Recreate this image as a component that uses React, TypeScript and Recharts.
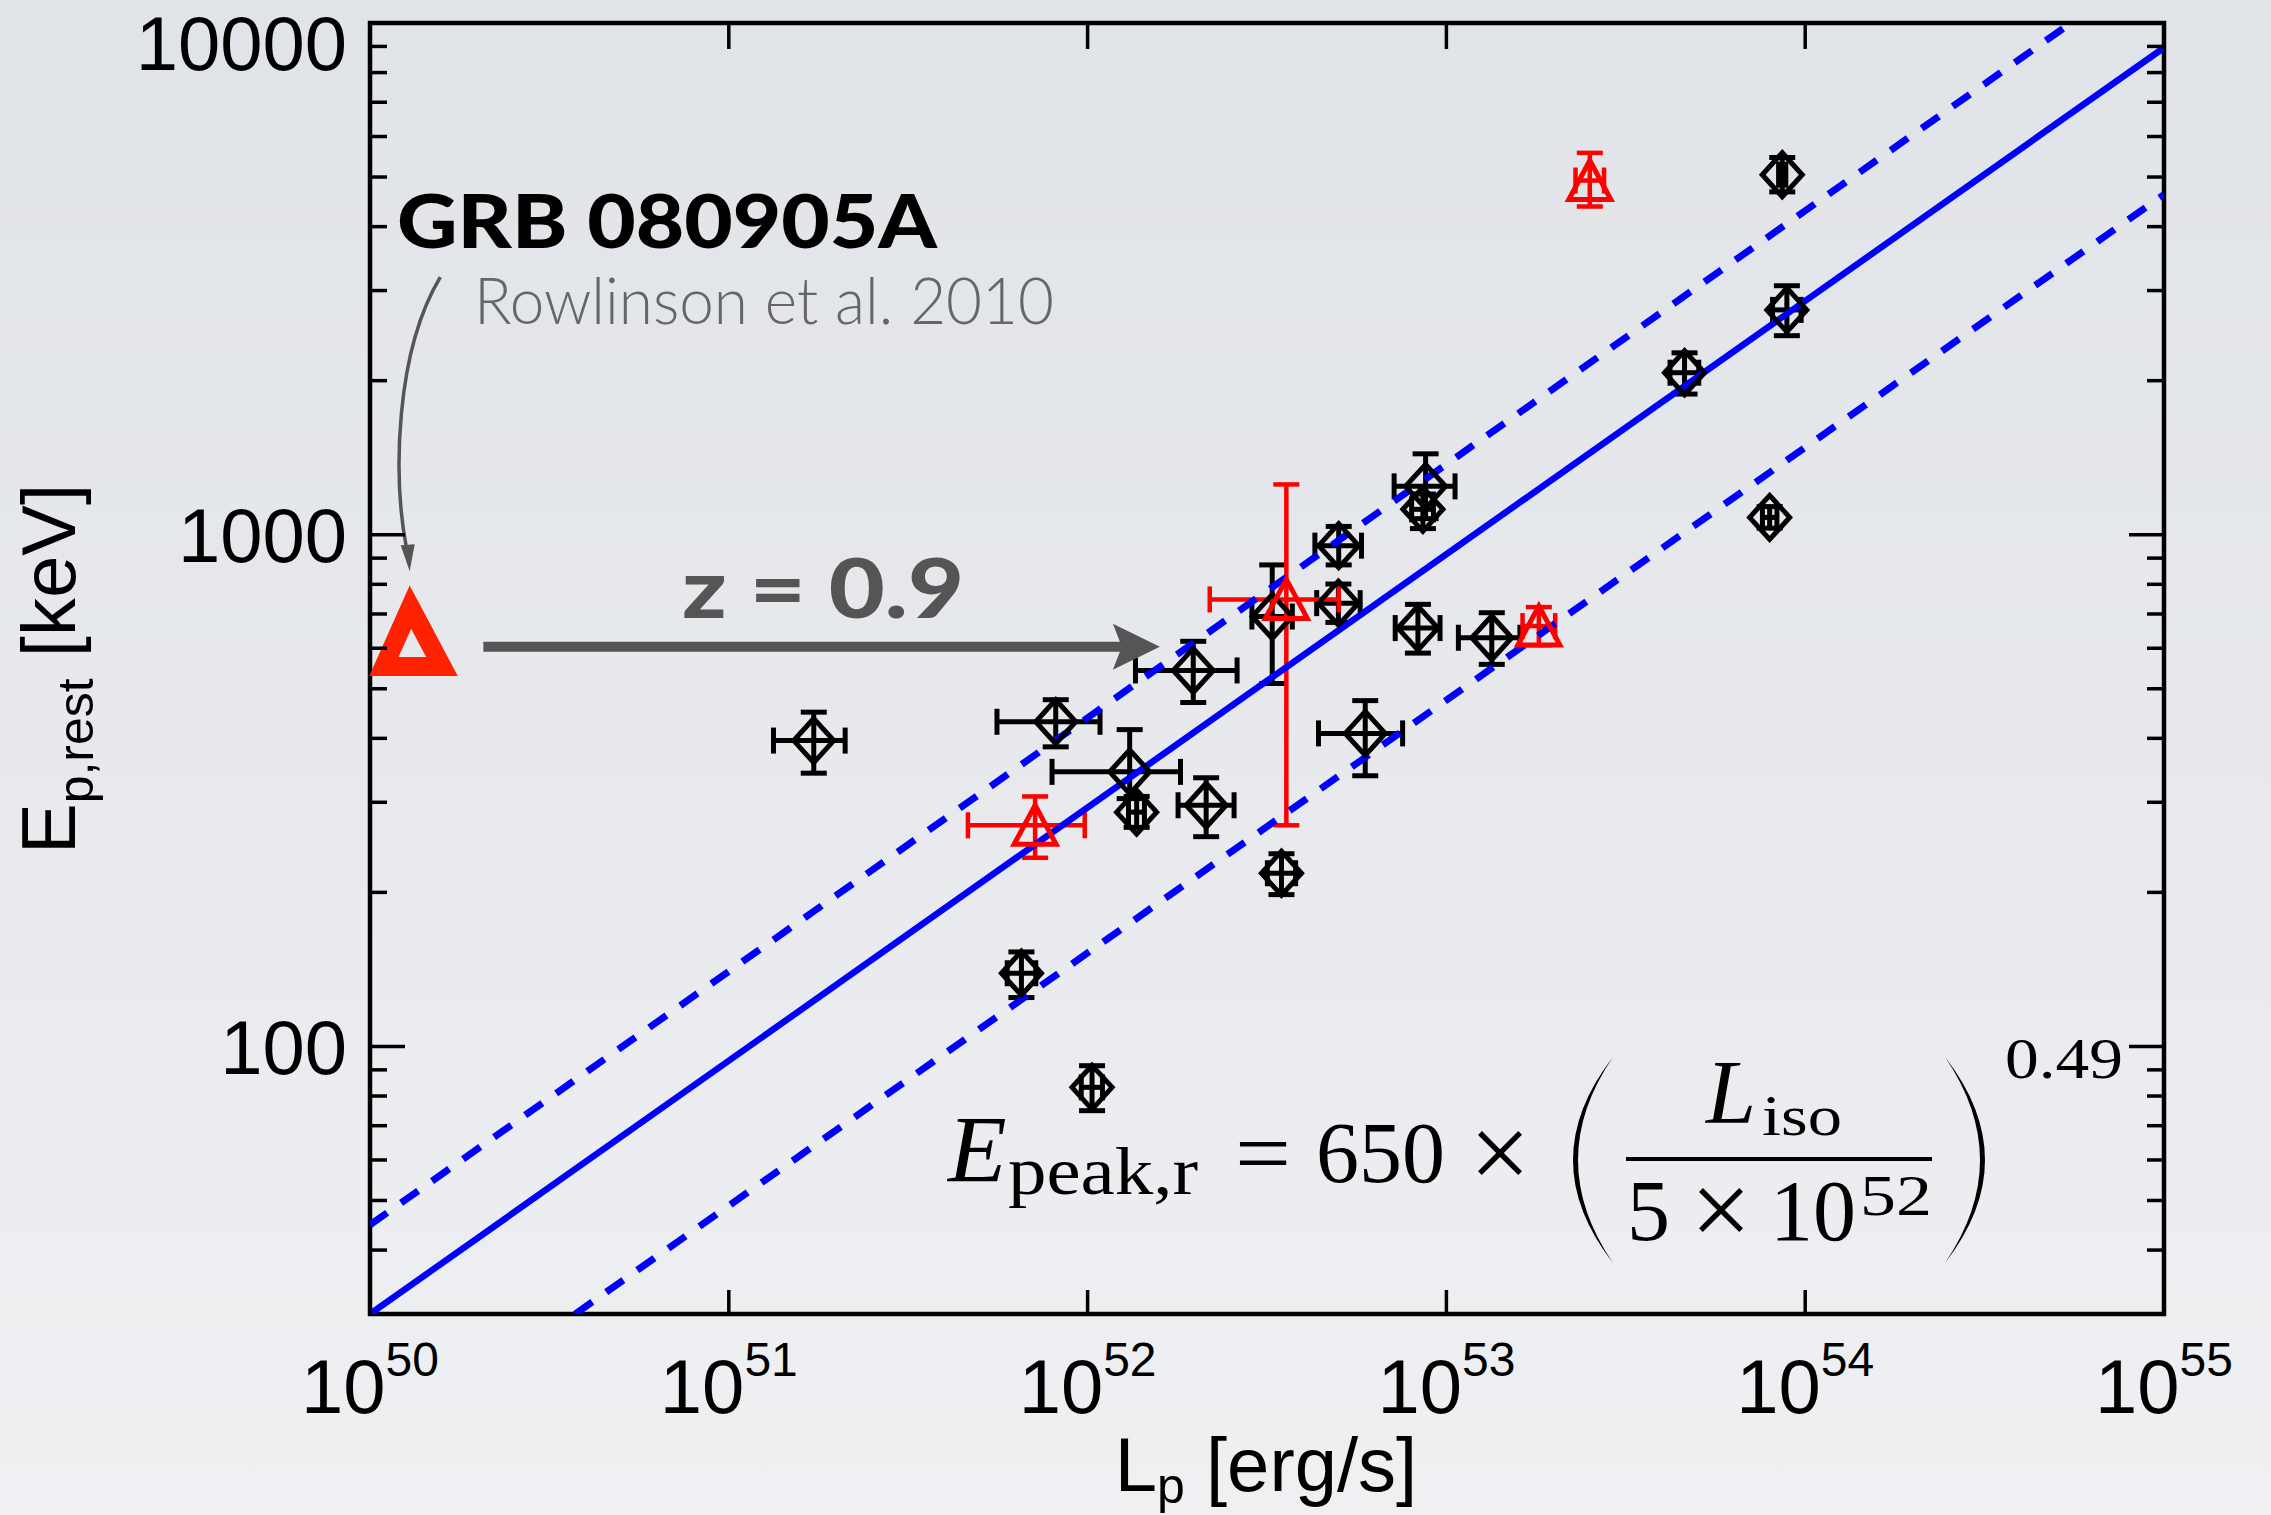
import React from 'react';
import {
  ScatterChart,
  Scatter,
  XAxis,
  YAxis,
  ErrorBar,
  ReferenceLine,
  ReferenceArea,
  Customized,
} from 'recharts';

// ---------- layout ----------
const W = 2271;
const H = 1515;
const PLOT_L = 370;
const PLOT_R = 2164;
const PLOT_T = 23;
const PLOT_B = 1314;
const PLOT_W = PLOT_R - PLOT_L;
const PLOT_H = PLOT_B - PLOT_T;

// ---------- axes ----------
const xDomain = [1e50, 1e55];
const yDomain = [30, 10000];
const xTicks = [1e50, 1e51, 1e52, 1e53, 1e54, 1e55];
const yTicks = [
  40, 50, 60, 70, 80, 90,
  100, 200, 300, 400, 500, 600, 700, 800, 900,
  1000, 2000, 3000, 4000, 5000, 6000, 7000, 8000, 9000,
  10000,
];

// ---------- black diamonds (GRB sample) ----------
const blackL = [1.97e52, 8.15e51, 1.31e52, 1.37e52, 2.14e52, 3.27e52, 5.01e52, 5.0e52, 8.33e52, 1.338e53, 8.75e52, 8.6e52, 3.47e52, 6.54e51, 1.725e51, 1.029e52, 8.63e53, 8.89e53, 4.61e53, 7.96e53, 5.94e52];
const blackLlo = [1.36e52, 5.59e51, 7.96e51, 1.30e52, 1.787e52, 2.87e52, 4.3e52, 4.35e52, 7.2e52, 1.08e53, 7.15e52, 8.0e52, 3.17e52, 5.97e51, 1.332e51, 9.6e51, 8.43e53, 8.11e53, 4.2e53, 7.6e53, 4.40e52];
const blackLhi = [2.61e52, 1.083e52, 1.815e52, 1.44e52, 2.56e52, 3.72e52, 5.8e52, 5.75e52, 9.6e52, 1.603e53, 1.057e53, 9.2e52, 3.8e52, 7.17e51, 2.11e51, 1.10e52, 8.83e53, 9.74e53, 5.05e53, 8.34e53, 7.55e52];
const blackE = [543, 431, 344, 287, 296, 692, 952, 735, 657, 629, 1243, 1121, 218, 139, 396, 83.2, 5053, 2750, 2073, 1081, 409];
const blackElo = [470, 385, 305, 268, 257, 512, 873, 674, 587, 558, 1075, 1028, 198, 124.6, 342, 74.9, 4677, 2449, 1883, 1030, 338];
const blackEhi = [619, 476, 416, 308, 335, 873, 1038, 801, 731, 704, 1439, 1201, 238, 153, 450, 91.7, 5460, 3066, 2267, 1135, 474];

// ---------- red triangles ----------
const redL = [7.14e51, 3.58e52, 1.81e53, 2.51e53];
const redLlo = [4.64e51, 2.19e52, 1.63e53, 2.29e53];
const redLhi = [9.82e51, 5.01e52, 2.01e53, 2.75e53];
const redE = [270.5, 747.5, 663, 4922];
const redElo = [233.7, 270.5, 608, 4379];
const redEhi = [308, 1254, 722, 5575];

// ---------- GRB 080905A (observed) ----------
const grbL = [1.31e50];
const grbE = [604];

// ---------- relation lines ----------
const fitL = [1e50, 1e55];
const fitE = [30, 8950];
const upperL = [1e50, 5.5e54];
const upperE = [44.8, 10000];
const lowerL = [3.73e50, 1e55];
const lowerE = [30, 4620];

// ---------- annotation arrows (data coordinates) ----------
const zArrowL = [2.07e50, 1.59e52];
const zArrowE = [604, 604];
const refArrowL = [1.57e50, 1.29e50];
const refArrowE = [3186, 848];

const withErr = (L: number[], Llo: number[], Lhi: number[], E: number[], Elo: number[], Ehi: number[]) =>
  L.map((x, i) => ({
    x,
    y: E[i],
    ex: [x - Llo[i], Lhi[i] - x],
    ey: [E[i] - Elo[i], Ehi[i] - E[i]],
  }));

const blackData = withErr(blackL, blackLlo, blackLhi, blackE, blackElo, blackEhi);
const redData = withErr(redL, redLlo, redLhi, redE, redElo, redEhi);
const grbData = grbL.map((x, i) => ({ x, y: grbE[i] }));
const toPts = (L: number[], E: number[]) => L.map((x, i) => ({ x, y: E[i] }));
const fitData = toPts(fitL, fitE);
const upperData = toPts(upperL, upperE);
const lowerData = toPts(lowerL, lowerE);

const SANS = '"Liberation Sans", Arial, Helvetica, sans-serif';
const SERIF = '"Liberation Serif", "Times New Roman", serif';
const GILL = 'Lato, "Open Sans", sans-serif';

// ---------- shapes ----------
const Diamond = (p: any) => {
  const { cx, cy } = p;
  if (cx == null || cy == null) return <g />;
  return (
    <path
      d={`M${cx},${cy - 22}L${cx + 20},${cy}L${cx},${cy + 22}L${cx - 20},${cy}Z`}
      fill="none"
      stroke="#000"
      strokeWidth={5}
    />
  );
};

const Triangle = (p: any) => {
  const { cx, cy } = p;
  if (cx == null || cy == null) return <g />;
  return (
    <path
      d={`M${cx},${cy - 20}L${cx + 21},${cy + 19}L${cx - 21},${cy + 19}Z`}
      fill="none"
      stroke="#ff0000"
      strokeWidth={5}
    />
  );
};

const BigTriangle = (p: any) => {
  const { cx, cy } = p;
  if (cx == null || cy == null) return <g />;
  return (
    <path
      d={`M${cx - 1.7},${cy - 39.7}L${cx + 29.9},${cy + 19.8}L${cx - 28.2},${cy + 19.8}Z`}
      fill="none"
      stroke="#ff2200"
      strokeWidth={19}
      strokeLinejoin="miter"
      strokeMiterlimit={10}
    />
  );
};

const NoShape = () => <g />;

const StraightArrow = (p: any) => {
  const { x1, y1, x2, y2 } = p;
  if (x1 == null || x2 == null) return <g />;
  return (
    <g>
      <line x1={x1} y1={y1} x2={x2 - 38} y2={y2} stroke="#555" strokeWidth={10} />
      <path d={`M${x2},${y2}L${x2 - 47},${y2 - 23}L${x2 - 38},${y2}L${x2 - 47},${y2 + 23}Z`} fill="#555" />
    </g>
  );
};

const CurvedArrow = (p: any) => {
  const { x1, y1, x2, y2 } = p;
  if (x1 == null || x2 == null) return <g />;
  return (
    <g>
      <path
        d={`M${x1},${y1}C${x1 - 45},${y1 + 75} ${x2 - 17},${y2 - 95} ${x2 - 3},${y2 - 22}`}
        fill="none"
        stroke="#555"
        strokeWidth={3.5}
      />
      <path d={`M${x2},${y2}L${x2 - 9},${y2 - 26}L${x2 + 5},${y2 - 27}Z`} fill="#555" />
    </g>
  );
};

// ---------- ticks ----------
const isMajor = (v: number) => Math.abs(Math.log10(v) - Math.round(Math.log10(v))) < 1e-6;

const YTick = (p: any) => {
  const v = p.payload.value;
  const x = p.x;
  const y = p.y;
  const major = isMajor(v);
  const len = major ? 35 : 17;
  const ly = v === 10000 ? y + 20 : y;
  return (
    <g>
      <line x1={x} y1={y} x2={x + len} y2={y} stroke="#000" strokeWidth={3.5} />
      <line x1={x + PLOT_W} y1={y} x2={x + PLOT_W - len} y2={y} stroke="#000" strokeWidth={3.5} />
      {major && (
        <text x={x - 23} y={ly} dy="0.36em" textAnchor="end" fontFamily={SANS} fontSize={76} fill="#000">
          {v}
        </text>
      )}
    </g>
  );
};

const XTick = (p: any) => {
  const v = p.payload.value;
  const x = p.x;
  const y = p.y;
  const exp = Math.round(Math.log10(v));
  return (
    <g>
      <line x1={x} y1={y} x2={x} y2={y - 24} stroke="#000" strokeWidth={3.5} />
      <line x1={x} y1={y - PLOT_H} x2={x} y2={y - PLOT_H + 26} stroke="#000" strokeWidth={3.5} />
      <text x={x} y={y + 99} textAnchor="middle" fontFamily={SANS} fontSize={76} fill="#000">
        10
        <tspan dy={-37} fontSize={48}>{exp}</tspan>
      </text>
    </g>
  );
};

// ---------- annotations (text) ----------
const Annotations = () => (
  <g>
    <text x={397} y={248} fontFamily={GILL} fontWeight={900} fontSize={74} textLength={540} lengthAdjust="spacingAndGlyphs" fill="#000">
      GRB 080905A
    </text>
    <text x={474} y={324} fontFamily={GILL} fontWeight={300} fontSize={66} textLength={580} lengthAdjust="spacingAndGlyphs" fill="#666">
      Rowlinson et al. 2010
    </text>
    <text x={682} y={618} fontFamily={GILL} fontWeight={900} fontSize={82} textLength={282} lengthAdjust="spacingAndGlyphs" fill="#555">
      z = 0.9
    </text>

    {/* axis titles */}
    <text transform="translate(75,669) rotate(-90)" textAnchor="middle" fontFamily={SANS} fontSize={76} fill="#000">
      E<tspan fontSize={50} dy={18}>p,rest</tspan>
      <tspan dy={-18}>{'\u00a0[keV]'}</tspan>
    </text>
    <text x={1266} y={1491} textAnchor="middle" fontFamily={SANS} fontSize={76} fill="#000">
      L<tspan fontSize={50} dy={12}>p</tspan>
      <tspan dy={-12}>{'\u00a0[erg/s]'}</tspan>
    </text>

    {/* relation */}
    <g fontFamily={SERIF} fill="#000">
      <text x={948} y={1182} fontSize={96} fontStyle="italic">E</text>
      <text x={1008} y={1194} fontSize={68} textLength={190} lengthAdjust="spacingAndGlyphs">peak,r</text>
      <text x={1263} y={1184} fontSize={90} textAnchor="middle" textLength={56} lengthAdjust="spacingAndGlyphs">=</text>
      <text x={1316} y={1182} fontSize={86}>650</text>
      <text x={1500} y={1189} fontSize={108} textAnchor="middle">×</text>
      <path d="M1613,1057 Q1533,1160 1613,1263 Q1543,1160 1613,1057Z" />
      <line x1={1626} y1={1159} x2={1932} y2={1159} stroke="#000" strokeWidth={4} />
      <text x={1706} y={1123} fontSize={90} fontStyle="italic">L</text>
      <text x={1762} y={1135} fontSize={58} textLength={80} lengthAdjust="spacingAndGlyphs">iso</text>
      <text x={1627} y={1240} fontSize={86}>5</text>
      <text x={1721} y={1246} fontSize={108} textAnchor="middle">×</text>
      <text x={1770} y={1240} fontSize={86}>10</text>
      <text x={1860} y={1215} fontSize={58} textLength={72} lengthAdjust="spacingAndGlyphs">52</text>
      <path d="M1945,1057 Q2025,1160 1945,1263 Q2015,1160 1945,1057Z" />
      <text x={2005} y={1078} fontSize={58} textLength={118} lengthAdjust="spacingAndGlyphs">0.49</text>
    </g>
  </g>
);

export default function App() {
  return (
    <div
      style={{
        position: 'absolute',
        left: 0,
        top: 0,
        width: W,
        height: H,
        background: 'linear-gradient(to bottom, #e0e3e7 0%, #e7e9ed 50%, #eef0f2 100%)',
      }}
    >
      <ScatterChart
        width={W}
        height={H}
        margin={{ top: PLOT_T, right: W - PLOT_R, bottom: 0, left: 0 }}
      >
        <XAxis
          type="number"
          dataKey="x"
          scale="log"
          domain={xDomain}
          ticks={xTicks}
          allowDataOverflow
          interval={0}
          axisLine={false}
          tickLine={false}
          tickSize={0}
          tickMargin={0}
          height={H - PLOT_B}
          tick={XTick}
        />
        <YAxis
          type="number"
          dataKey="y"
          scale="log"
          domain={yDomain}
          ticks={yTicks}
          allowDataOverflow
          interval={0}
          axisLine={false}
          tickLine={false}
          tickSize={0}
          tickMargin={0}
          width={PLOT_L}
          tick={YTick}
        />

        <Scatter data={fitData} shape={NoShape} line={{ stroke: '#0000ff', strokeWidth: 6.5 }} isAnimationActive={false} />
        <Scatter data={upperData} shape={NoShape} line={{ stroke: '#0000ff', strokeWidth: 7, strokeDasharray: '21 17' }} isAnimationActive={false} />
        <Scatter data={lowerData} shape={NoShape} line={{ stroke: '#0000ff', strokeWidth: 7, strokeDasharray: '21 17' }} isAnimationActive={false} />

        <Scatter data={blackData} shape={Diamond} isAnimationActive={false}>
          <ErrorBar dataKey="ex" direction="x" width={13} stroke="#000" strokeWidth={5} isAnimationActive={false} />
          <ErrorBar dataKey="ey" direction="y" width={13} stroke="#000" strokeWidth={5} isAnimationActive={false} />
        </Scatter>
        <Scatter data={redData} shape={Triangle} isAnimationActive={false}>
          <ErrorBar dataKey="ex" direction="x" width={13} stroke="#ff0000" strokeWidth={4.5} isAnimationActive={false} />
          <ErrorBar dataKey="ey" direction="y" width={13} stroke="#ff0000" strokeWidth={4.5} isAnimationActive={false} />
        </Scatter>
        <Scatter data={grbData} shape={BigTriangle} isAnimationActive={false} />

        <ReferenceLine
          segment={[{ x: zArrowL[0], y: zArrowE[0] }, { x: zArrowL[1], y: zArrowE[1] }]}
          shape={StraightArrow}
        />
        <ReferenceLine
          segment={[{ x: refArrowL[0], y: refArrowE[0] }, { x: refArrowL[1], y: refArrowE[1] }]}
          shape={CurvedArrow}
        />

        <ReferenceArea x1={xDomain[0]} x2={xDomain[1]} y1={yDomain[0]} y2={yDomain[1]} fill="none" fillOpacity={0} stroke="#000" strokeWidth={4.5} />

        <Customized component={Annotations} />
      </ScatterChart>
    </div>
  );
}
